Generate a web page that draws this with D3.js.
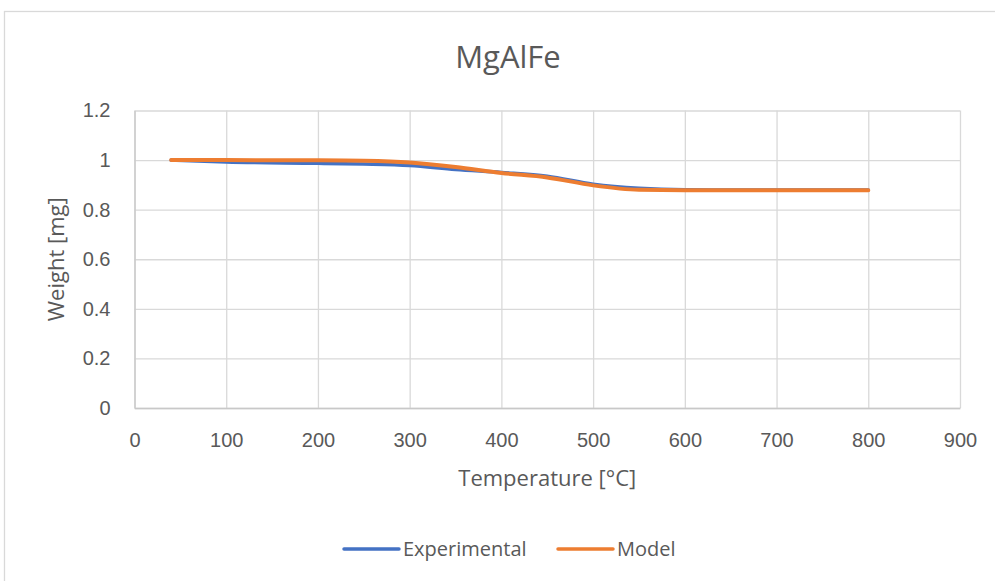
<!DOCTYPE html>
<html lang="en">
<head>
    <meta charset="UTF-8">
    <title>MgAlFe</title>
    <script src="https://d3js.org/d3.v7.min.js"></script>
    <style>
        body {
            margin: 0;
            background: #ffffff;
            font-family: "Open Sans", sans-serif;
        }
        .grid line {
            stroke: #d9d9d9;
            stroke-width: 1.3px;
        }
        .tick text {
            fill: #595959;
            font-size: 20px;
        }
        .label {
            fill: #595959;
        }
    </style>
</head>
<body>
    <div id="chart"></div>

    <script>
        // data
        const temps = [40, 100, 200, 250, 300, 350, 400, 450, 500, 550, 600, 700, 800];
        const experimental = [1.0, 0.992, 0.987, 0.984, 0.978, 0.962, 0.95, 0.935, 0.903, 0.886, 0.88, 0.879, 0.879];
        const model = [1.0, 1.0, 0.999, 0.997, 0.99, 0.972, 0.948, 0.93, 0.898, 0.88, 0.878, 0.878, 0.878];
        const xTicks = [0, 100, 200, 300, 400, 500, 600, 700, 800, 900];
        const yTicks = [0, 0.2, 0.4, 0.6, 0.8, 1, 1.2];

        const width = 995;
        const height = 581;
        const plot = { left: 134.5, right: 960, top: 110.5, bottom: 408 };

        const svg = d3.select("#chart")
            .append("svg")
            .attr("width", width)
            .attr("height", height);

        // chart border
        svg.append("rect")
            .attr("x", 4.5)
            .attr("y", 11.5)
            .attr("width", 1100)
            .attr("height", 700)
            .attr("fill", "none")
            .attr("stroke", "#d9d9d9")
            .attr("stroke-width", 1.3);

        const x = d3.scaleLinear().domain([0, 900]).range([plot.left, plot.right]);
        const y = d3.scaleLinear().domain([0, 1.2]).range([plot.bottom, plot.top]);

        // gridlines
        svg.append("g")
            .attr("class", "grid")
            .attr("transform", `translate(0,${plot.bottom})`)
            .call(d3.axisBottom(x).tickValues(xTicks).tickSize(-(plot.bottom - plot.top)).tickFormat(""))
            .call(g => g.select(".domain").remove());

        svg.append("g")
            .attr("class", "grid")
            .attr("transform", `translate(${plot.left},0)`)
            .call(d3.axisLeft(y).tickValues(yTicks).tickSize(-(plot.right - plot.left)).tickFormat(""))
            .call(g => g.select(".domain").remove());

        // axes
        const xAxis = svg.append("g")
            .attr("transform", `translate(0,${plot.bottom})`)
            .call(d3.axisBottom(x).tickValues(xTicks).tickSize(0).tickPadding(39).tickFormat(d3.format("d")));
        xAxis.select(".domain").attr("stroke", "#c8c8c8").attr("stroke-width", 1.3);
        xAxis.selectAll("text").attr("dy", "0");

        const yAxis = svg.append("g")
            .attr("transform", `translate(${plot.left},0)`)
            .call(d3.axisLeft(y).tickValues(yTicks).tickSize(0).tickPadding(24).tickFormat(d => String(d)));
        yAxis.select(".domain").attr("stroke", "#c8c8c8").attr("stroke-width", 1.3);

        // lines
        const series = [
            { name: "Experimental", values: experimental, color: "#4472c4", w: 3.5 },
            { name: "Model", values: model, color: "#ed7d31", w: 4 }
        ];

        const line = d3.line()
            .x((d, i) => x(temps[i]))
            .y(d => y(d))
            .curve(d3.curveMonotoneX);

        series.forEach(s => {
            svg.append("path")
                .datum(s.values)
                .attr("fill", "none")
                .attr("stroke", s.color)
                .attr("stroke-width", s.w)
                .attr("stroke-linecap", "round")
                .attr("d", line);
        });

        // titles
        svg.append("text")
            .attr("class", "label")
            .attr("x", 508)
            .attr("y", 68)
            .attr("text-anchor", "middle")
            .style("font-size", "31px")
            .text("MgAlFe");

        svg.append("text")
            .attr("class", "label")
            .attr("x", (plot.left + plot.right) / 2)
            .attr("y", 486)
            .attr("text-anchor", "middle")
            .style("font-size", "22px")
            .text("Temperature [°C]");

        svg.append("text")
            .attr("class", "label")
            .attr("transform", `translate(64,${(plot.top + plot.bottom) / 2}) rotate(-90)`)
            .attr("text-anchor", "middle")
            .style("font-size", "22px")
            .text("Weight [mg]");

        // legend
        const legendItems = [
            { name: "Experimental", color: "#4472c4", x0: 344 },
            { name: "Model", color: "#ed7d31", x0: 558 }
        ];
        legendItems.forEach(d => {
            svg.append("line")
                .attr("x1", d.x0).attr("x2", d.x0 + 55)
                .attr("y1", 549).attr("y2", 549)
                .attr("stroke", d.color)
                .attr("stroke-width", 3.5)
                .attr("stroke-linecap", "round");
            svg.append("text")
                .attr("class", "label")
                .attr("x", d.x0 + 59)
                .attr("y", 549)
                .attr("dy", "0.35em")
                .style("font-size", "20px")
                .text(d.name);
        });
    </script>
</body>
</html>
